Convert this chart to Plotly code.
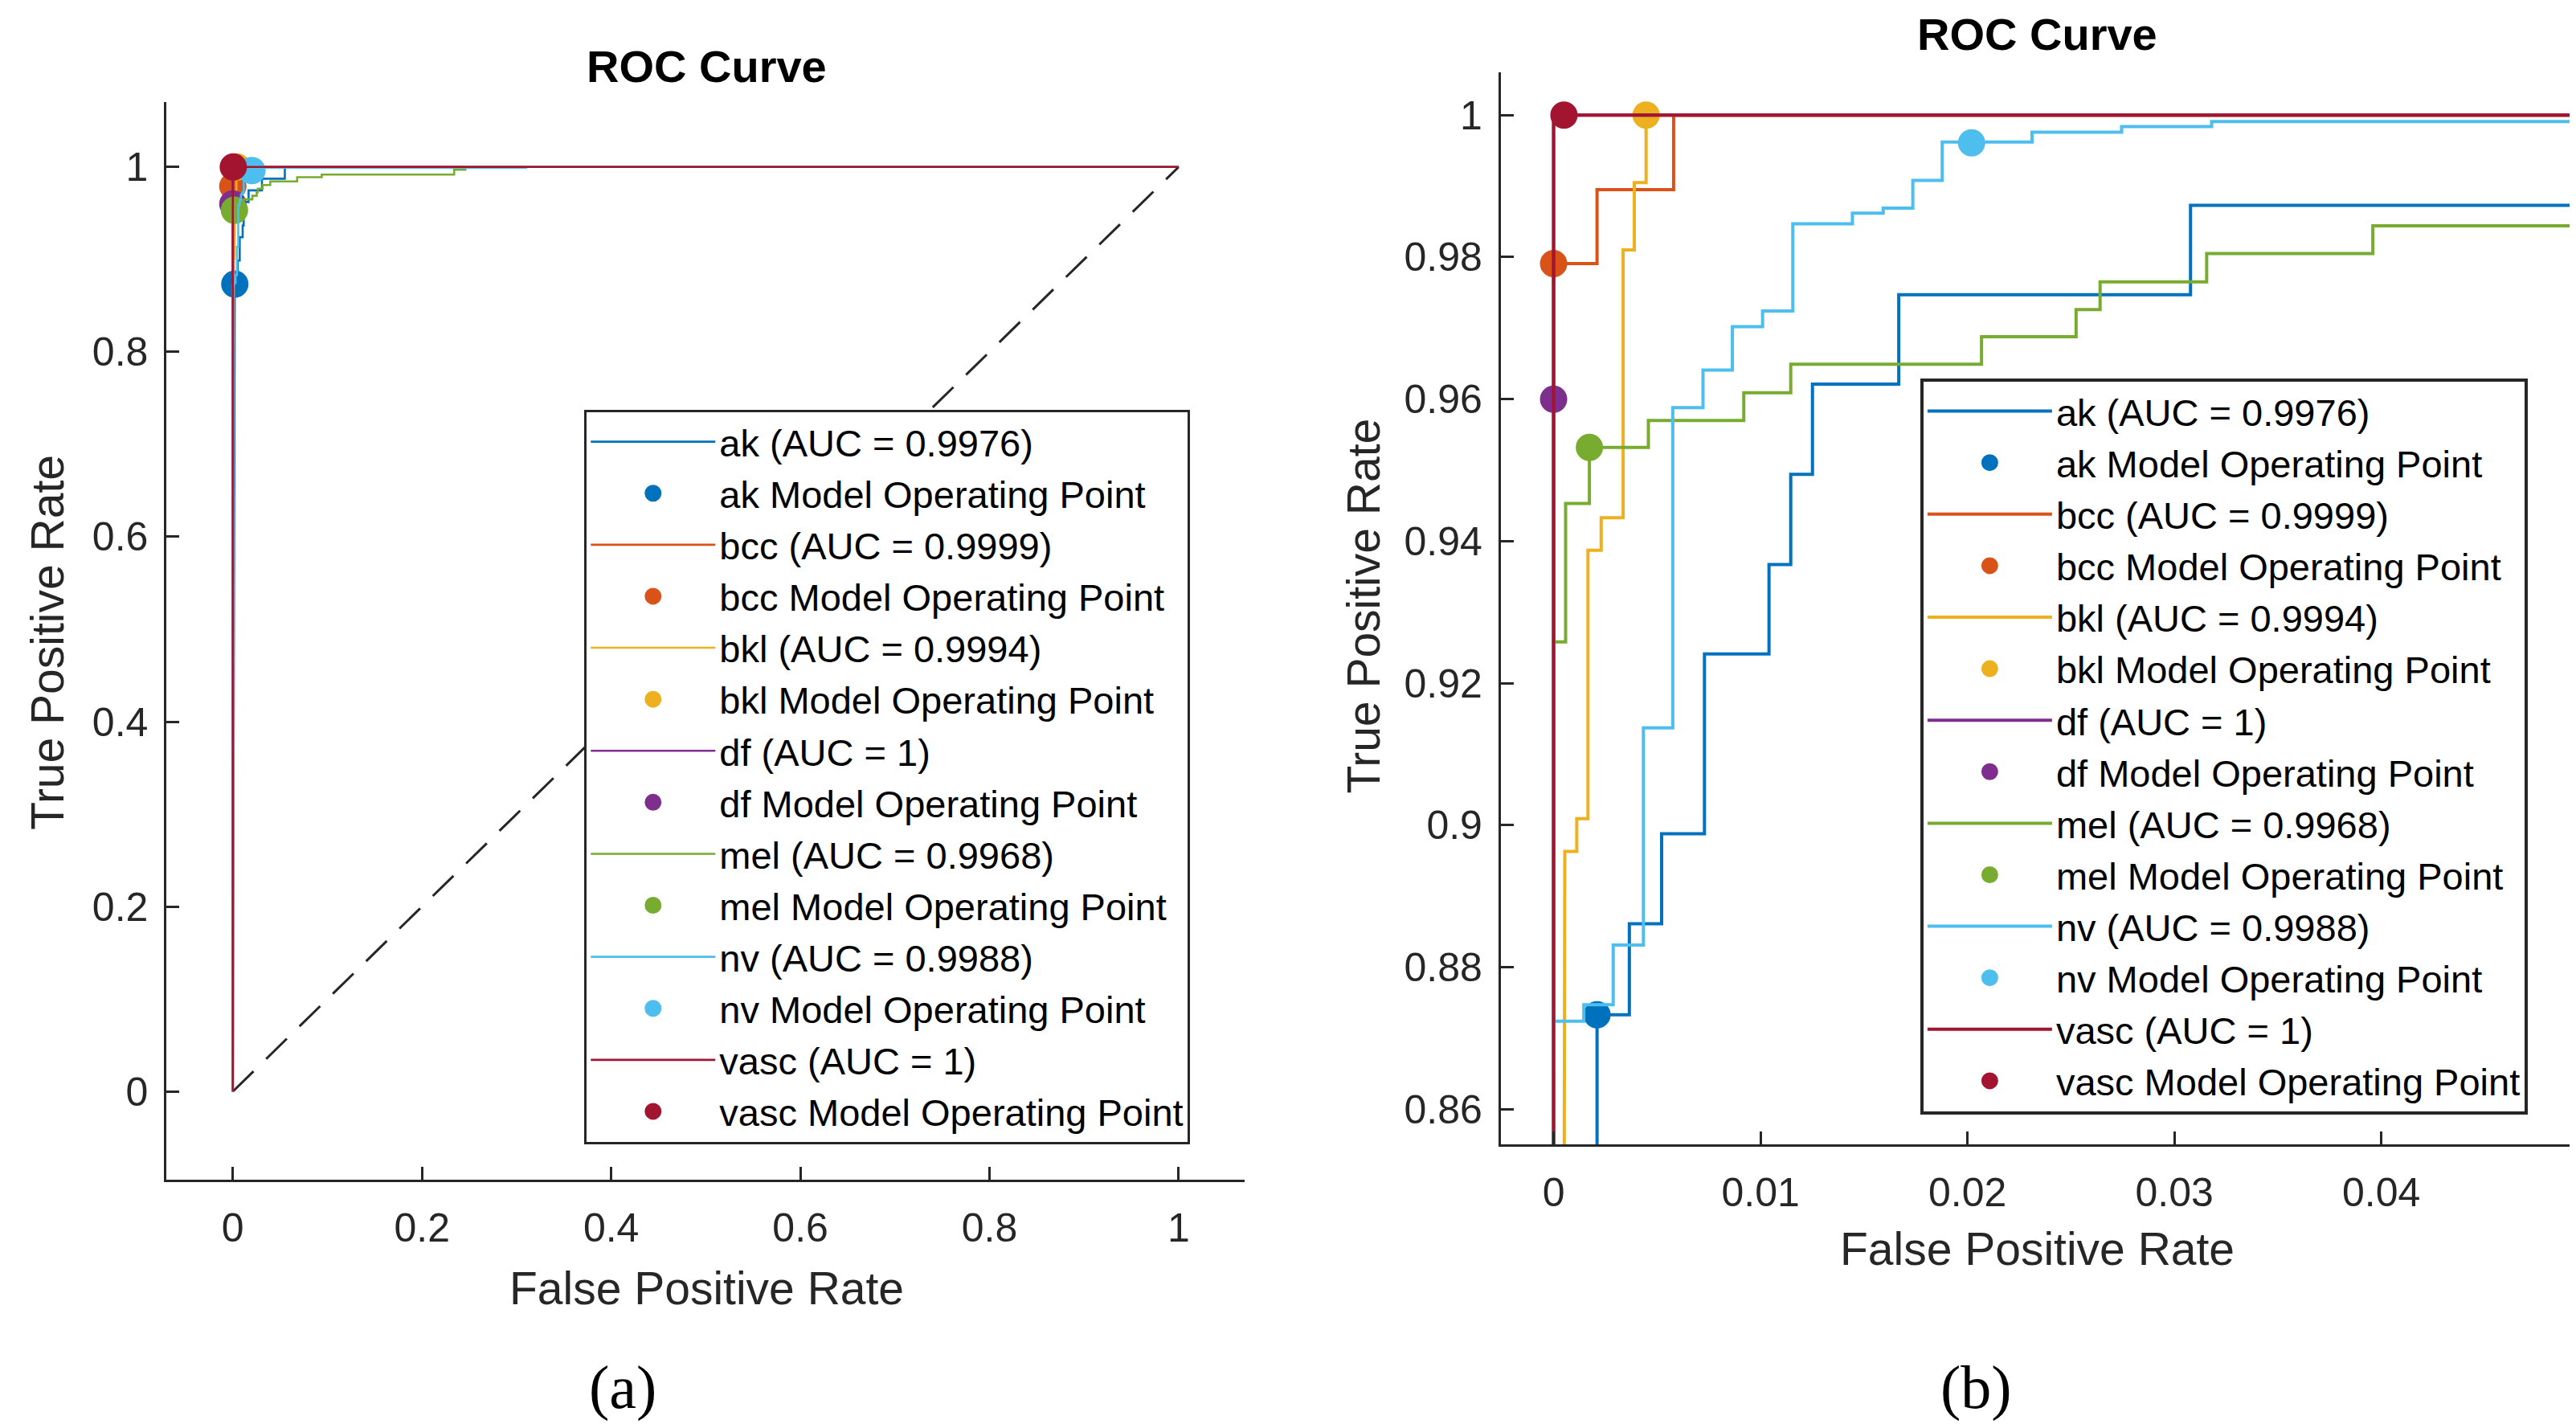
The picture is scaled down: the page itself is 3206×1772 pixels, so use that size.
import plotly.graph_objects as go

# ---------------- data ----------------
classes = ["ak", "bcc", "bkl", "df", "mel", "nv", "vasc"]
auc_text = ["0.9976", "0.9999", "0.9994", "1", "0.9968", "0.9988", "1"]
colors = ["#0072BD", "#D95319", "#EDB120", "#7E2F8E", "#77AC30", "#4DBEEE", "#A2142F"]

ak_fpr = [0, 0.0021, 0.0021, 0.00366, 0.00366, 0.00522, 0.00522, 0.00729, 0.00729, 0.01041, 0.01041,
          0.01146, 0.01146, 0.01251, 0.01251, 0.01668, 0.01668, 0.03078, 0.03078, 0.055, 0.055, 1]
ak_tpr = [0, 0.82, 0.8733, 0.8733, 0.8861, 0.8861, 0.8988, 0.8988, 0.9241, 0.9241, 0.9367,
          0.9367, 0.9494, 0.9494, 0.9621, 0.9621, 0.9747, 0.9747, 0.9873, 0.9873, 1, 1]

bcc_fpr = [0, 0, 0.0021, 0.0021, 0.0058, 0.0058, 1]
bcc_tpr = [0, 0.9791, 0.9791, 0.9895, 0.9895, 1, 1]

bkl_fpr = [0, 0.00054, 0.00112, 0.00112, 0.00166, 0.00166, 0.0023, 0.0023, 0.00336, 0.00336,
           0.0039, 0.0039, 0.00447, 0.00447, 1]
bkl_tpr = [0, 0.8963, 0.8963, 0.9009, 0.9009, 0.9387, 0.9387, 0.9433, 0.9433, 0.981,
           0.981, 0.9905, 0.9905, 1, 1]

df_fpr = [0, 0, 1]
df_tpr = [0, 1, 1]

mel_fpr = [0, 0, 0.00058, 0.00058, 0.00173, 0.00173, 0.00458, 0.00458, 0.00919, 0.00919, 0.01146,
           0.01146, 0.02068, 0.02068, 0.02525, 0.02525, 0.02641, 0.02641, 0.03156, 0.03156, 0.03959,
           0.03959, 0.068, 0.068, 0.094, 0.094, 0.234, 0.234, 0.246, 0.246, 1]
mel_tpr = [0, 0.9258, 0.9258, 0.9453, 0.9453, 0.9532, 0.9532, 0.957, 0.957, 0.9609, 0.9609,
           0.9649, 0.9649, 0.9688, 0.9688, 0.9726, 0.9726, 0.9765, 0.9765, 0.9805, 0.9805,
           0.9844, 0.9844, 0.9889, 0.9889, 0.9918, 0.9918, 0.997, 0.997, 1, 1]

nv_fpr = [0, 0, 0.00146, 0.00146, 0.00288, 0.00288, 0.00434, 0.00434, 0.00576, 0.00576, 0.00722,
          0.00722, 0.00864, 0.00864, 0.0101, 0.0101, 0.01156, 0.01156, 0.01444, 0.01444, 0.01593,
          0.01593, 0.01736, 0.01736, 0.01878, 0.01878, 0.02312, 0.02312, 0.02745, 0.02745, 0.0318,
          0.0318, 0.31, 0.31, 1]
nv_tpr = [0, 0.8724, 0.8724, 0.8747, 0.8747, 0.8831, 0.8831, 0.9137, 0.9137, 0.9588, 0.9588,
          0.9641, 0.9641, 0.9702, 0.9702, 0.9724, 0.9724, 0.9847, 0.9847, 0.9862, 0.9862,
          0.9869, 0.9869, 0.9908, 0.9908, 0.9962, 0.9962, 0.9976, 0.9976, 0.9984, 0.9984,
          0.9991, 0.9991, 1, 1]

vasc_fpr = [0, 0, 1]
vasc_tpr = [0, 1, 1]

op_fpr = [0.0021, 0, 0.00447, 0, 0.00173, 0.0202, 0.0005]
op_tpr = [0.8733, 0.9791, 1, 0.96, 0.9532, 0.9961, 1]

chance_fpr = [0, 1]
chance_tpr = [0, 1]

curves_fpr = [ak_fpr, bcc_fpr, bkl_fpr, df_fpr, mel_fpr, nv_fpr, vasc_fpr]
curves_tpr = [ak_tpr, bcc_tpr, bkl_tpr, df_tpr, mel_tpr, nv_tpr, vasc_tpr]

xa_ticks = [0, 0.2, 0.4, 0.6, 0.8, 1]
xa_text = ["0", "0.2", "0.4", "0.6", "0.8", "1"]
ya_ticks = [0, 0.2, 0.4, 0.6, 0.8, 1]
ya_text = ["0", "0.2", "0.4", "0.6", "0.8", "1"]
xb_ticks = [0, 0.01, 0.02, 0.03, 0.04]
xb_text = ["0", "0.01", "0.02", "0.03", "0.04"]
yb_ticks = [0.86, 0.88, 0.9, 0.92, 0.94, 0.96, 0.98, 1]
yb_text = ["0.86", "0.88", "0.9", "0.92", "0.94", "0.96", "0.98", "1"]

# ---------------- figure ----------------
FONT = "Liberation Sans, Arial, Helvetica, sans-serif"
AX = "#262626"
fig = go.Figure()

fig.add_trace(go.Scatter(x=chance_fpr, y=chance_tpr, mode="lines", xaxis="x", yaxis="y",
                         line=dict(color="#262626", width=3, dash="36px,22px"),
                         showlegend=False, hoverinfo="skip"))

panels = [("x", "y", "legend", 2.6, 29), ("x2", "y2", "legend2", 4, 29)]
for xa, ya, leg, lw, ms in panels:
    for i, name in enumerate(classes):
        fig.add_trace(go.Scatter(x=curves_fpr[i], y=curves_tpr[i], mode="lines",
                                 xaxis=xa, yaxis=ya, legend=leg,
                                 name=f"{name} (AUC = {auc_text[i]})",
                                 line=dict(color=colors[i], width=lw)))
        fig.add_trace(go.Scatter(x=[op_fpr[i]], y=[op_tpr[i]], mode="markers",
                                 xaxis=xa, yaxis=ya, legend=leg,
                                 name=f"{name} Model Operating Point",
                                 marker=dict(color=colors[i], size=ms,
                                             line=dict(color=colors[i], width=5))))

axis_common = dict(showline=True, linecolor=AX, linewidth=3, ticks="inside", ticklen=16,
                   tickwidth=3, tickcolor=AX, showgrid=False, zeroline=False,
                   tickfont=dict(family=FONT, size=50, color=AX), mirror=False)

W, H = 1560.0, 862.0
fig.update_layout(
    width=3206, height=1772,
    margin=dict(l=0, r=0, t=0, b=0),
    paper_bgcolor="white", plot_bgcolor="white",
    xaxis=dict(domain=[97 / W, 750 / W], range=[-0.07, 1.07], anchor="y",
               tickvals=xa_ticks, ticktext=xa_text, ticklabelstandoff=14, **axis_common),
    yaxis=dict(domain=[1 - 710 / H, 1 - 58 / H], range=[-0.095, 1.07], anchor="x",
               tickvals=ya_ticks, ticktext=ya_text, ticklabelstandoff=10, **axis_common),
    xaxis2=dict(domain=[905 / W, 1556 / W], range=[-0.00255, 0.0494], anchor="y2",
                tickvals=xb_ticks, ticktext=xb_text, ticklabelstandoff=14, **axis_common),
    yaxis2=dict(domain=[1 - 689 / H, 1 - 40 / H], range=[0.855, 1.006], anchor="x2",
                tickvals=yb_ticks, ticktext=yb_text, ticklabelstandoff=10, **axis_common),
    legend=dict(x=350 / W, y=1 - 244 / H, xanchor="left", yanchor="top", bgcolor="white",
                bordercolor=AX, borderwidth=3, itemwidth=155, tracegroupgap=0,
                font=dict(family=FONT, size=47, color="black")),
    legend2=dict(x=1159 / W, y=1 - 225 / H, xanchor="left", yanchor="top", bgcolor="white",
                 bordercolor=AX, borderwidth=4, itemwidth=155, tracegroupgap=0,
                 font=dict(family=FONT, size=47, color="black")),
    showlegend=True,
)

ann = []
def txt(text, x, y, size, bold=False, angle=0, family=FONT, color=AX):
    ann.append(dict(text=f"<b>{text}</b>" if bold else text, x=x, y=y, xref="paper", yref="paper",
                    xanchor="center", yanchor="middle", showarrow=False, textangle=angle,
                    font=dict(family=family, size=size, color=color)))

txt("ROC Curve", 424 / W, 1 - 36 / H, 56, bold=True, color="black")
txt("ROC Curve", 1230 / W, 1 - 17 / H, 56, bold=True, color="black")
txt("False Positive Rate", 424 / W, 1 - 776 / H, 57)
txt("False Positive Rate", 1230 / W, 1 - 752 / H, 57)
txt("True Positive Rate", 25 / W, 1 - 385 / H, 57, angle=-90)
txt("True Positive Rate", 822 / W, 1 - 363 / H, 57, angle=-90)
txt("(a)", 373 / W, 1 - 836 / H, 76, family="Liberation Serif, Times New Roman, serif", color="black")
txt("(b)", 1193 / W, 1 - 836 / H, 76, family="Liberation Serif, Times New Roman, serif", color="black")
fig.update_layout(annotations=ann)

fig.write_html("out.html")
